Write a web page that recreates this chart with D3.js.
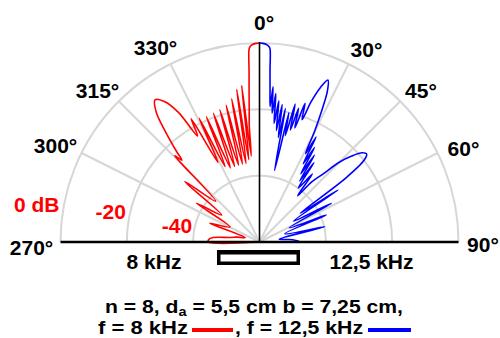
<!DOCTYPE html>
<html>
<head>
<meta charset="utf-8">
<script src="https://cdn.jsdelivr.net/npm/d3@7/dist/d3.min.js"></script>
<style>
  html, body { margin: 0; padding: 0; background: #fff; }
  svg { display: block; }
  text { font-family: "Liberation Sans", Arial, sans-serif; font-weight: bold; }
</style>
</head>
<body>
<svg id="chart" width="500" height="338"></svg>
<script>
// Directivity pattern of a line array, level in dB against angle in degrees
// (0° = on axis, positive = clockwise).

// 8 kHz pattern, left half (angles 0 .. -90)
const red8kAngles = [0, -1, -2, -2.7, -3.1, -3.5, -4, -4.5, -5, -5.5,
  -6.5, -7.4, -8.5, -9.7, -11, -12.3, -13.7, -15.2, -16.7, -18.2,
  -19.7, -21.4, -23, -24.5, -26, -27.5, -29, -30.3, -32, -34,
  -36.3, -38.5, -40.5, -42.5, -43.5, -44.5, -47, -51, -54.5, -58.4,
  -63, -69.3, -73, -78, -81.3, -84.5, -87.5, -90, -90];
const red8kDb = [0, -0.1, -0.4, -0.9, -1.8, -8.5, -15, -20.5, -24.5, -34,
  -12.5, -35, -13.5, -36, -16, -36, -17.5, -36, -18.4, -36,
  -18.8, -36, -19, -35, -18.5, -33, -17.5, -23, -14, -9,
  -6.8, -10, -16.5, -23, -26, -23.5, -42, -31, -46, -37.7,
  -50, -44, -55.5, -53, -51, -46, -44.6, -44.6, -60];

// 12.5 kHz pattern, right half (angles 0 .. 90)
const blue12kAngles = [0, 1, 2, 2.7, 3.1, 3.5, 4, 4.5, 5, 5.6,
  6.3, 7, 7.8, 8.6, 9.4, 10.2, 11, 11.9, 12.8, 13.6,
  14.5, 15.4, 16.3, 17.2, 18.2, 19.2, 20.2, 21.5, 22.9, 24.2,
  25.5, 26.5, 27.5, 28.3, 29.2, 30.2, 31.2, 32.3, 33.4, 34.5,
  35.7, 37.9, 39.5, 41, 43, 45, 47, 49, 50.6, 52,
  53.5, 54.8, 56.5, 58.5, 61.7, 64.5, 68, 72, 76.8, 82,
  86, 89.5, 90];
const blue12kDb = [0, -0.1, -0.4, -0.9, -1.6, -8, -14.5, -19, -13, -21,
  -15, -24, -17, -26, -18, -28, -19, -38, -20, -27,
  -17, -25, -18, -24, -16, -21, -15, -10, -7, -10,
  -17, -23, -30, -24, -33, -27, -36, -29, -38, -31,
  -40, -34, -42, -36, -32, -26, -22, -19, -18.2, -20,
  -28, -45, -31.6, -48, -35.4, -50, -38.3, -52, -39.8, -54,
  -50, -48, -60];

// Polar grid
const ringDb = [0, -20, -40];
const ringLabels = ["0 dB", "-20", "-40"];
const angleTicks = [270, 300, 315, 330, 0, 30, 45, 60, 90];
const angleTickLabels = ["270°", "300°", "315°", "330°", "0°", "30°", "45°", "60°", "90°"];
const spokeDirs = [[-2, 1], [-1, 1], [-1, 2], [1, 2], [1, 1], [2, 1]]; // (dx, dy) grid directions
const freqLabels = ["8 kHz", "12,5 kHz"];

// ---- layout ----
const cx = 259.5, cy = 242, R = 199;
const svg = d3.select("#chart");
const r = d3.scaleLinear().domain([-60, 0]).range([0, R]).clamp(true);
const rad = d3.scaleLinear().domain([0, 360]).range([0, 2 * Math.PI]);

const plot = svg.append("g").attr("transform", `translate(${cx},${cy})`);

// rings
ringDb.forEach(db => {
  const p = d3.path();
  p.arc(0, 0, r(db), Math.PI, 2 * Math.PI);
  plot.append("path").attr("d", p.toString())
    .attr("fill", "none").attr("stroke", "#d6d6d6").attr("stroke-width", 2);
});
// spokes
spokeDirs.forEach(([dx, dy]) => {
  const a = Math.atan2(dx, dy);
  plot.append("line")
    .attr("x1", 0).attr("y1", 0)
    .attr("x2", R * Math.sin(a)).attr("y2", -R * Math.cos(a))
    .attr("stroke", "#d6d6d6").attr("stroke-width", 2);
});

// patterns
const radial = d3.lineRadial().curve(d3.curveCatmullRom.alpha(0.5));
function pattern(angles, dbs, color) {
  const pts = angles.map((a, i) => [rad(a), r(dbs[i])]);
  plot.append("path").attr("d", radial(pts))
    .attr("fill", "none").attr("stroke", color).attr("stroke-width", 1.6)
    .attr("stroke-linejoin", "round");
}
pattern(red8kAngles, red8kDb, "#ff0000");
pattern(blue12kAngles, blue12kDb, "#0000ff");

// axes
plot.append("line").attr("x1", 0).attr("y1", 0).attr("x2", 0).attr("y2", -R - 1)
  .attr("stroke", "#000").attr("stroke-width", 1.6);
plot.append("line").attr("x1", -R).attr("y1", 0).attr("x2", R).attr("y2", 0)
  .attr("stroke", "#000").attr("stroke-width", 2.4);

// array symbol below the centre
svg.append("rect").attr("x", 217).attr("y", 250).attr("width", 83).attr("height", 15).attr("fill", "#000");
svg.append("rect").attr("x", 220.5).attr("y", 254.5).attr("width", 76).attr("height", 7).attr("fill", "#fff");

// angle labels
const tickPos = {270: [31.5, 255], 300: [55.5, 153], 315: [97.5, 98], 330: [155.5, 55],
  0: [264, 30], 30: [366.5, 57], 45: [421, 98], 60: [463.5, 156], 90: [483, 251.5]};
angleTicks.forEach((t, i) => {
  svg.append("text").attr("x", tickPos[t][0]).attr("y", tickPos[t][1])
    .attr("text-anchor", "middle").attr("font-size", 21).attr("fill", "#000")
    .text(angleTickLabels[i]);
});

// ring labels
const ringLabelY = [212, 219, 233];
ringDb.forEach((db, i) => {
  svg.append("text").attr("x", cx - r(db) - 1).attr("y", ringLabelY[i])
    .attr("text-anchor", "end").attr("font-size", 21).attr("fill", "#ff0000")
    .text(ringLabels[i]);
});

// frequency labels
svg.append("text").attr("x", 154).attr("y", 269).attr("text-anchor", "middle")
  .attr("font-size", 21).text(freqLabels[0]);
svg.append("text").attr("x", 371.5).attr("y", 269).attr("text-anchor", "middle")
  .attr("font-size", 21).text(freqLabels[1]);

// caption, stretched to its line width
function fit(sel, x0, x1) {
  sel.attr("x", x0).attr("textLength", x1 - x0).attr("lengthAdjust", "spacingAndGlyphs");
}
const cap1 = svg.append("text").attr("y", 313).attr("font-size", 17.5);
cap1.append("tspan").text("n = 8, d");
cap1.append("tspan").attr("font-size", 12).attr("dy", 3).text("a");
cap1.append("tspan").attr("dy", -3).text(" = 5,5 cm b = 7,25 cm,");
fit(cap1, 105, 403);

const capA = svg.append("text").attr("y", 334).attr("font-size", 17.5).text("f = 8 kHz");
fit(capA, 98, 188);
svg.append("line").attr("x1", 192).attr("x2", 233).attr("y1", 330).attr("y2", 330)
  .attr("stroke", "#ff0000").attr("stroke-width", 4);
const capB = svg.append("text").attr("y", 334).attr("font-size", 17.5).text(", f = 12,5 kHz");
fit(capB, 235, 363);
svg.append("line").attr("x1", 368).attr("x2", 411).attr("y1", 330).attr("y2", 330)
  .attr("stroke", "#0000ff").attr("stroke-width", 4);
</script>
</body>
</html>
